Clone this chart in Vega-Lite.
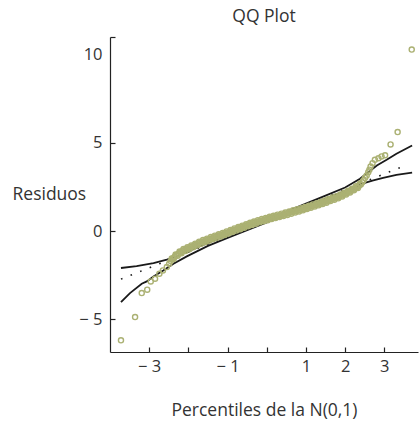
{
  "$schema": "https://vega.github.io/schema/vega-lite/v6.json",
  "width": 308,
  "height": 315,
  "autosize": "none",
  "padding": {"left": 110, "top": 37, "right": 1, "bottom": 71},
  "config": {"view": {"stroke": null}, "font": "Open Sans"},
  "title": {"text": "QQ Plot", "fontSize": 17.5, "fontWeight": "normal", "color": "#333333", "offset": 11, "anchor": "middle", "font": "Open Sans"},
  "layer": [
    {
      "data": {"values": [{"x": -3.72, "y": -2.72}, {"x": 3.55, "y": 3.73}]},
      "mark": {"type": "line", "color": "#1a1a1a", "strokeWidth": 1.6, "strokeDash": [1.6, 8.7], "strokeCap": "butt"},
      "encoding": {
        "x": {"field": "x", "type": "quantitative", "scale": {"domain": [-4, 3.86], "nice": false, "zero": false},
          "axis": {"values": [-3, -2, -1, 0, 1, 2, 3], "labelExpr": "datum.value == -2 || datum.value == 0 ? '' : (datum.value < 0 ? '− ' + abs(datum.value) : datum.label)", "tickSize": -5, "labelPadding": 11, "grid": false, "domainColor": "#222222", "tickColor": "#222222", "domainWidth": 1.2, "tickWidth": 1.2, "labelFontSize": 16.5, "labelColor": "#333333", "labelFont": "Open Sans", "title": "Percentiles de la N(0,1)", "titleFont": "Open Sans", "titleFontSize": 17.5, "titleFontWeight": "normal", "titleColor": "#333333", "titleY": 58, "titleBaseline": "middle"}},
        "y": {"field": "y", "type": "quantitative", "scale": {"domain": [-6.85, 11], "nice": false, "zero": false},
          "axis": {"values": [-5, 0, 5, 10, 11], "labelExpr": "datum.value == 11 ? '' : (datum.value < 0 ? '− ' + abs(datum.value) : datum.label)", "tickSize": -5, "labelPadding": 13, "tickOpacity": {"condition": {"test": "datum.value == 10", "value": 0}, "value": 1}, "grid": false, "domainColor": "#222222", "tickColor": "#222222", "domainWidth": 1.2, "tickWidth": 1.2, "labelFontSize": 16.5, "labelColor": "#333333", "labelFont": "Open Sans", "title": "Residuos", "titleFont": "Open Sans", "titleFontSize": 17.5, "titleFontWeight": "normal", "titleColor": "#333333", "titleAngle": 0, "titleAlign": "left", "titleX": -98, "titleY": 157, "titleBaseline": "middle"}}
      }
    },
    {
      "data": {"values": [
        {"x": -3.72, "y": -2.09}, {"x": -3.32, "y": -1.98}, {"x": -2.89, "y": -1.81}, {"x": -2.55, "y": -1.62}, {"x": -2.30, "y": -1.43}, {"x": -2.0, "y": -1.13}, {"x": -1.5, "y": -0.67}, {"x": -1.0, "y": -0.22}, {"x": -0.5, "y": 0.22}, {"x": 0, "y": 0.66}, {"x": 0.5, "y": 1.11}, {"x": 1.0, "y": 1.56}, {"x": 1.5, "y": 2.01}, {"x": 2.0, "y": 2.47}, {"x": 2.38, "y": 2.97}, {"x": 2.59, "y": 3.34}, {"x": 2.81, "y": 3.72}, {"x": 3.06, "y": 4.04}, {"x": 3.31, "y": 4.38}, {"x": 3.71, "y": 4.85}
      ]},
      "mark": {"type": "line", "color": "#1a1a1a", "strokeWidth": 1.8},
      "encoding": {"x": {"field": "x", "type": "quantitative"}, "y": {"field": "y", "type": "quantitative"}}
    },
    {
      "data": {"values": [
        {"x": -3.72, "y": -4.03}, {"x": -3.49, "y": -3.51}, {"x": -3.19, "y": -2.98}, {"x": -3.06, "y": -2.85}, {"x": -2.89, "y": -2.57}, {"x": -2.64, "y": -2.23}, {"x": -2.38, "y": -1.85}, {"x": -2.04, "y": -1.43}, {"x": -1.5, "y": -0.84}, {"x": -1.0, "y": -0.38}, {"x": -0.5, "y": 0.06}, {"x": 0, "y": 0.50}, {"x": 0.5, "y": 0.95}, {"x": 1.0, "y": 1.40}, {"x": 1.5, "y": 1.84}, {"x": 2.0, "y": 2.27}, {"x": 2.46, "y": 2.70}, {"x": 2.72, "y": 2.87}, {"x": 2.97, "y": 3.02}, {"x": 3.31, "y": 3.19}, {"x": 3.71, "y": 3.31}
      ]},
      "mark": {"type": "line", "color": "#1a1a1a", "strokeWidth": 1.8},
      "encoding": {"x": {"field": "x", "type": "quantitative"}, "y": {"field": "y", "type": "quantitative"}}
    },
    {
      "data": {"values": [
        {"x": -3.72, "y": -6.19}, {"x": -3.36, "y": -4.87}, {"x": -3.19, "y": -3.51}, {"x": -3.05, "y": -3.32}, {"x": -2.96, "y": -2.85}, {"x": -2.85, "y": -2.70}, {"x": -2.74, "y": -2.41}, {"x": -2.65, "y": -2.23}, {"x": -2.55, "y": -2.04}, {"x": -2.49, "y": -1.85},
        {"x": -2.45, "y": -1.70}, {"x": -2.40, "y": -1.55}, {"x": -2.35, "y": -1.45}, {"x": -2.30, "y": -1.36}, {"x": -2.25, "y": -1.28}, {"x": -2.20, "y": -1.20}, {"x": -2.15, "y": -1.13}, {"x": -2.10, "y": -1.07}, {"x": -2.05, "y": -1.02}, {"x": -2.00, "y": -0.97},
        {"x": -1.95, "y": -0.92}, {"x": -1.90, "y": -0.86}, {"x": -1.85, "y": -0.81}, {"x": -1.80, "y": -0.76}, {"x": -1.75, "y": -0.70}, {"x": -1.70, "y": -0.65}, {"x": -1.65, "y": -0.61}, {"x": -1.60, "y": -0.57}, {"x": -1.55, "y": -0.53}, {"x": -1.50, "y": -0.49},
        {"x": -1.45, "y": -0.44}, {"x": -1.40, "y": -0.40}, {"x": -1.35, "y": -0.36}, {"x": -1.30, "y": -0.32}, {"x": -1.25, "y": -0.28}, {"x": -1.20, "y": -0.24}, {"x": -1.15, "y": -0.20}, {"x": -1.10, "y": -0.16}, {"x": -1.05, "y": -0.12}, {"x": -1.00, "y": -0.08},
        {"x": -0.95, "y": -0.04}, {"x": -0.90, "y": 0.01}, {"x": -0.85, "y": 0.05}, {"x": -0.80, "y": 0.09}, {"x": -0.75, "y": 0.13}, {"x": -0.70, "y": 0.17}, {"x": -0.65, "y": 0.21}, {"x": -0.60, "y": 0.25}, {"x": -0.55, "y": 0.29}, {"x": -0.50, "y": 0.33},
        {"x": -0.45, "y": 0.37}, {"x": -0.40, "y": 0.41}, {"x": -0.35, "y": 0.44}, {"x": -0.30, "y": 0.48}, {"x": -0.25, "y": 0.52}, {"x": -0.20, "y": 0.56}, {"x": -0.15, "y": 0.59}, {"x": -0.10, "y": 0.62}, {"x": -0.05, "y": 0.65}, {"x": 0.00, "y": 0.68},
        {"x": 0.05, "y": 0.71}, {"x": 0.10, "y": 0.74}, {"x": 0.15, "y": 0.77}, {"x": 0.20, "y": 0.80}, {"x": 0.25, "y": 0.83}, {"x": 0.30, "y": 0.86}, {"x": 0.35, "y": 0.89}, {"x": 0.40, "y": 0.92}, {"x": 0.45, "y": 0.95}, {"x": 0.50, "y": 0.98},
        {"x": 0.55, "y": 1.01}, {"x": 0.60, "y": 1.05}, {"x": 0.65, "y": 1.08}, {"x": 0.70, "y": 1.11}, {"x": 0.75, "y": 1.14}, {"x": 0.80, "y": 1.17}, {"x": 0.85, "y": 1.20}, {"x": 0.90, "y": 1.24}, {"x": 0.95, "y": 1.27}, {"x": 1.00, "y": 1.31},
        {"x": 1.05, "y": 1.34}, {"x": 1.10, "y": 1.38}, {"x": 1.15, "y": 1.41}, {"x": 1.20, "y": 1.45}, {"x": 1.25, "y": 1.48}, {"x": 1.30, "y": 1.52}, {"x": 1.35, "y": 1.55}, {"x": 1.40, "y": 1.59}, {"x": 1.45, "y": 1.63}, {"x": 1.50, "y": 1.67},
        {"x": 1.55, "y": 1.71}, {"x": 1.60, "y": 1.76}, {"x": 1.65, "y": 1.80}, {"x": 1.70, "y": 1.84}, {"x": 1.75, "y": 1.88}, {"x": 1.80, "y": 1.92}, {"x": 1.85, "y": 1.96}, {"x": 1.90, "y": 2.01}, {"x": 1.95, "y": 2.07}, {"x": 2.00, "y": 2.12},
        {"x": 2.05, "y": 2.18}, {"x": 2.10, "y": 2.24}, {"x": 2.15, "y": 2.29}, {"x": 2.20, "y": 2.35}, {"x": 2.25, "y": 2.42}, {"x": 2.30, "y": 2.49}, {"x": 2.35, "y": 2.56}, {"x": 2.40, "y": 2.64},
        {"x": -2.425, "y": -1.55}, {"x": -2.375, "y": -1.58}, {"x": -2.325, "y": -1.33}, {"x": -2.275, "y": -1.40}, {"x": -2.225, "y": -1.16}, {"x": -2.175, "y": -1.25}, {"x": -2.125, "y": -1.02}, {"x": -2.075, "y": -1.13}, {"x": -2.025, "y": -0.92}, {"x": -1.975, "y": -1.03},
        {"x": -1.925, "y": -0.81}, {"x": -1.875, "y": -0.92}, {"x": -1.825, "y": -0.71}, {"x": -1.775, "y": -0.81}, {"x": -1.725, "y": -0.60}, {"x": -1.675, "y": -0.71}, {"x": -1.625, "y": -0.51}, {"x": -1.575, "y": -0.63}, {"x": -1.525, "y": -0.43}, {"x": -1.475, "y": -0.55},
        {"x": -1.425, "y": -0.34}, {"x": -1.375, "y": -0.46}, {"x": -1.325, "y": -0.26}, {"x": -1.275, "y": -0.38}, {"x": -1.225, "y": -0.18}, {"x": -1.175, "y": -0.30}, {"x": -1.125, "y": -0.10}, {"x": -1.075, "y": -0.22}, {"x": -1.025, "y": -0.02}, {"x": -0.975, "y": -0.14},
        {"x": -0.925, "y": 0.07}, {"x": -0.875, "y": -0.05}, {"x": -0.825, "y": 0.15}, {"x": -0.775, "y": 0.03}, {"x": -0.725, "y": 0.23}, {"x": -0.675, "y": 0.11}, {"x": -0.625, "y": 0.31}, {"x": -0.575, "y": 0.19}, {"x": -0.525, "y": 0.39}, {"x": -0.475, "y": 0.27},
        {"x": -0.425, "y": 0.47}, {"x": -0.375, "y": 0.35}, {"x": -0.325, "y": 0.54}, {"x": -0.275, "y": 0.42}, {"x": -0.225, "y": 0.62}, {"x": -0.175, "y": 0.50}, {"x": -0.125, "y": 0.69}, {"x": -0.075, "y": 0.56}, {"x": -0.025, "y": 0.75}, {"x": 0.025, "y": 0.62},
        {"x": 0.075, "y": 0.81}, {"x": 0.125, "y": 0.68}, {"x": 0.175, "y": 0.87}, {"x": 0.225, "y": 0.74}, {"x": 0.275, "y": 0.93}, {"x": 0.325, "y": 0.80}, {"x": 0.375, "y": 0.99}, {"x": 0.425, "y": 0.86}, {"x": 0.475, "y": 1.05}, {"x": 0.525, "y": 0.92},
        {"x": 0.575, "y": 1.11}, {"x": 0.625, "y": 0.99}, {"x": 0.675, "y": 1.18}, {"x": 0.725, "y": 1.05}, {"x": 0.775, "y": 1.24}, {"x": 0.825, "y": 1.11}, {"x": 0.875, "y": 1.30}, {"x": 0.925, "y": 1.18}, {"x": 0.975, "y": 1.37}, {"x": 1.025, "y": 1.25},
        {"x": 1.075, "y": 1.44}, {"x": 1.125, "y": 1.32}, {"x": 1.175, "y": 1.51}, {"x": 1.225, "y": 1.39}, {"x": 1.275, "y": 1.58}, {"x": 1.325, "y": 1.46}, {"x": 1.375, "y": 1.65}, {"x": 1.425, "y": 1.53}, {"x": 1.475, "y": 1.73}, {"x": 1.525, "y": 1.61},
        {"x": 1.575, "y": 1.82}, {"x": 1.625, "y": 1.70}, {"x": 1.675, "y": 1.90}, {"x": 1.725, "y": 1.78}, {"x": 1.775, "y": 1.98}, {"x": 1.825, "y": 1.86}, {"x": 1.875, "y": 2.07}, {"x": 1.925, "y": 1.96}, {"x": 1.975, "y": 2.18}, {"x": 2.025, "y": 2.07},
        {"x": 2.075, "y": 2.29}, {"x": 2.125, "y": 2.19}, {"x": 2.175, "y": 2.40}, {"x": 2.225, "y": 2.31}, {"x": 2.275, "y": 2.54}, {"x": 2.325, "y": 2.45}, {"x": 2.375, "y": 2.68}, {"x": 2.435, "y": 2.76},
        {"x": 2.47, "y": 2.88}, {"x": 2.51, "y": 3.02}, {"x": 2.55, "y": 3.15}, {"x": 2.59, "y": 3.34}, {"x": 2.62, "y": 3.48}, {"x": 2.65, "y": 3.66}, {"x": 2.70, "y": 3.85}, {"x": 2.76, "y": 4.04}, {"x": 2.85, "y": 4.13}, {"x": 2.93, "y": 4.23}, {"x": 3.02, "y": 4.30}, {"x": 3.16, "y": 4.91}, {"x": 3.34, "y": 5.61}, {"x": 3.70, "y": 10.29}
      ]},
      "mark": {"type": "point", "shape": "circle", "filled": false, "size": 26, "strokeWidth": 1.4, "color": "#abb173", "opacity": 1},
      "encoding": {"x": {"field": "x", "type": "quantitative"}, "y": {"field": "y", "type": "quantitative"}}
    }
  ]
}
